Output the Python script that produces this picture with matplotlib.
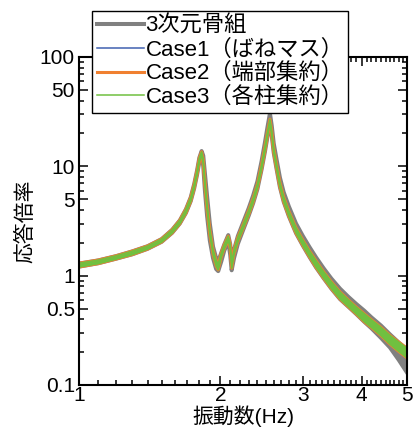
import matplotlib
matplotlib.use("Agg")
import matplotlib.pyplot as plt
from matplotlib.ticker import FixedLocator, FixedFormatter, NullFormatter
from matplotlib.lines import Line2D
import numpy as np

plt.rcParams['font.family'] = ['Liberation Sans', 'Noto Sans CJK JP', 'DejaVu Sans']

# ---- data ----
freq = [1.00, 1.10, 1.20, 1.30, 1.40, 1.50, 1.58, 1.64, 1.69, 1.73,
        1.76, 1.785, 1.805, 1.825, 1.84, 1.855, 1.875, 1.90, 1.93, 1.96,
        1.98, 2.01, 2.04, 2.08, 2.10, 2.115, 2.14, 2.18, 2.24, 2.30,
        2.35, 2.40, 2.45, 2.49, 2.52, 2.552, 2.575, 2.60, 2.636, 2.68,
        2.73, 2.80, 2.90, 3.00, 3.10, 3.20, 3.32, 3.45, 3.60, 3.75,
        3.90, 4.05, 4.20, 4.40, 4.60, 4.80, 5.00]

frame_lo = [1.21, 1.30, 1.43, 1.57, 1.76, 2.04, 2.47, 3.00, 3.75, 4.8,
            6.3, 8.4, 11.0, 12.8, 10.0, 6.0, 3.5, 2.1, 1.45, 1.15,
            1.10, 1.35, 1.70, 2.05, 1.55, 1.12, 1.45, 1.95, 2.65, 3.55,
            4.6, 6.2, 9.4, 13.6, 18.4, 25.0, 19.0, 13.3, 9.5, 6.45,
            4.74, 3.5, 2.45, 1.88, 1.48, 1.19, 0.95, 0.76, 0.61, 0.52,
            0.445, 0.38, 0.33, 0.27, 0.22, 0.17, 0.13]
frame_hi = [1.29, 1.38, 1.51, 1.67, 1.86, 2.16, 2.63, 3.20, 4.05, 5.2,
            6.9, 9.2, 12.0, 13.8, 12.5, 8.6, 5.3, 3.0, 1.85, 1.45,
            1.35, 1.62, 1.93, 2.35, 1.94, 1.40, 1.73, 2.30, 3.10, 4.15,
            5.4, 7.3, 11.2, 16.5, 22.5, 30.5, 23.5, 16.2, 11.6, 7.9,
            5.8, 4.3, 3.0, 2.3, 1.82, 1.47, 1.17, 0.94, 0.76, 0.64,
            0.55, 0.48, 0.415, 0.35, 0.29, 0.245, 0.21]

case1_lo = [1.20, 1.29, 1.42, 1.56, 1.75, 2.03, 2.46, 2.98, 3.73, 4.78,
            6.3, 8.4, 11.0, 12.8, 10.4, 6.6, 3.95, 2.35, 1.56, 1.22,
            1.13, 1.48, 1.77, 2.10, 1.76, 1.17, 1.57, 2.05, 2.72, 3.62,
            4.67, 6.3, 9.5, 13.8, 18.6, 25.0, 19.0, 13.3, 9.5, 6.45,
            4.74, 3.5, 2.45, 1.88, 1.48, 1.19, 0.95, 0.76, 0.61, 0.52,
            0.445, 0.38, 0.335, 0.283, 0.236, 0.203, 0.177]
case1_hi = [1.30, 1.39, 1.52, 1.68, 1.87, 2.17, 2.64, 3.22, 4.07, 5.22,
            6.9, 9.2, 12.0, 13.6, 11.6, 7.4, 4.45, 2.65, 1.74, 1.38,
            1.28, 1.62, 1.93, 2.30, 1.94, 1.33, 1.73, 2.25, 2.98, 3.98,
            5.13, 6.9, 10.5, 15.2, 20.4, 27.0, 21.0, 14.7, 10.5, 7.15,
            5.26, 3.9, 2.75, 2.12, 1.68, 1.37, 1.09, 0.88, 0.71, 0.60,
            0.515, 0.45, 0.395, 0.337, 0.284, 0.247, 0.217]
case2_lo = list(case1_lo)
case2_hi = list(case1_hi)
case3_lo = list(case1_lo)
case3_hi = list(case1_hi)

labels = ['3次元骨組', 'Case1（ばねマス）', 'Case2（端部集約）', 'Case3（各柱集約）']
colors = ['#808080', '#4060b0', '#f08030', '#70c040']
widths = [2.9, 1.1, 2.2, 1.1]

y_major = [0.1, 0.5, 1, 5, 10, 50, 100]
y_major_labels = ['0.1', '0.5', '1', '5', '10', '50', '100']
x_major = [1, 2, 3, 4, 5]
x_major_labels = ['1', '2', '3', '4', '5']

# ---- figure ----
fig = plt.figure(figsize=(4.14, 4.32), dpi=100)
ax = fig.add_axes([79/414, 47/432, 328/414, 328/432])

series = [(frame_lo, frame_hi), (case1_lo, case1_hi), (case2_lo, case2_hi), (case3_lo, case3_hi)]
for (lo, hi), c, w in zip(series, colors, widths):
    ax.fill_between(freq, lo, hi, color=c, linewidth=0, zorder=2)
    ax.plot(freq, lo, color=c, lw=w, zorder=2, solid_joinstyle='round')
    ax.plot(freq, hi, color=c, lw=w, zorder=2, solid_joinstyle='round')

ax.set_xscale('log')
ax.set_yscale('log')
ax.set_xlim(1, 5)
ax.set_ylim(0.1, 100)

ax.xaxis.set_major_locator(FixedLocator(x_major))
ax.xaxis.set_major_formatter(FixedFormatter(x_major_labels))
xminor = [round(v, 1) for v in np.arange(1.1, 5.0, 0.1) if abs(v - round(v)) > 1e-6]
ax.xaxis.set_minor_locator(FixedLocator(xminor))
ax.xaxis.set_minor_formatter(NullFormatter())

ax.yaxis.set_major_locator(FixedLocator(y_major))
ax.yaxis.set_major_formatter(FixedFormatter(y_major_labels))
yminor = []
for d in [0.1, 1, 10]:
    for m in [2, 3, 4, 6, 7, 8, 9]:
        yminor.append(d * m)
ax.yaxis.set_minor_locator(FixedLocator(yminor))
ax.yaxis.set_minor_formatter(NullFormatter())

ax.tick_params(which='both', direction='in', top=True, right=True, width=1.1,
               labelsize=15, colors='black')
ax.tick_params(which='major', length=6.5)
ax.tick_params(which='minor', length=3.8)
ax.tick_params(axis='x', which='major', pad=1)
ax.tick_params(axis='y', which='major', pad=3)
for s in ax.spines.values():
    s.set_linewidth(1.5)

ax.set_xlabel('振動数(Hz)', fontsize=15, labelpad=0)
ax.set_ylabel('応答倍率', fontsize=15, labelpad=3)

handles = [Line2D([0], [0], color=c, lw=w) for c, w in zip(colors, widths)]
leg = ax.legend(handles, labels, loc='upper left', bbox_to_anchor=(0.04, 1.14),
                borderaxespad=0, fontsize=16, frameon=True, fancybox=False,
                edgecolor='black', framealpha=1, handlelength=2.15,
                handletextpad=0.05, labelspacing=0.12, borderpad=0.2)
leg.get_frame().set_linewidth(1.0)
leg.set_zorder(5)

fig.savefig('out.png', dpi=100)
